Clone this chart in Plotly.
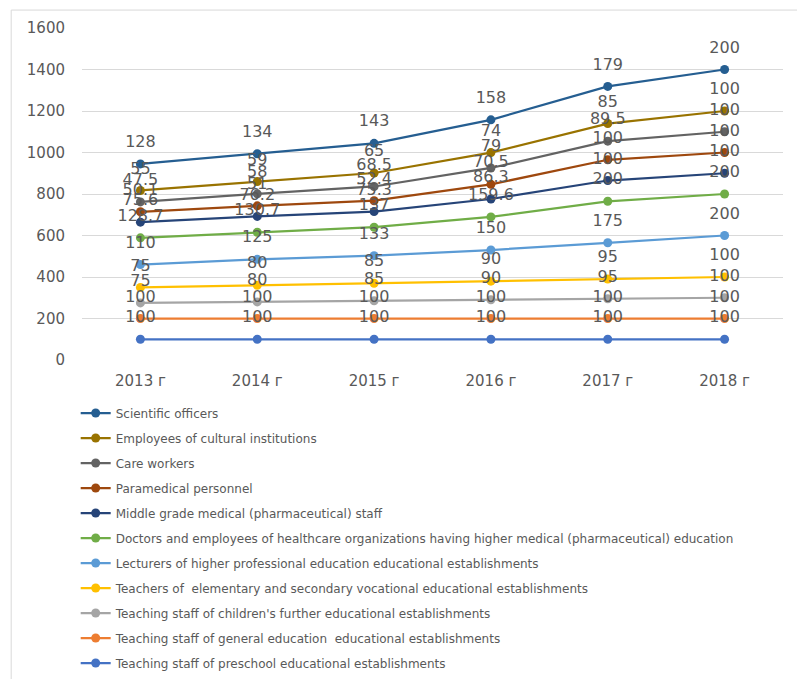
import plotly.graph_objects as go

years = ["2013 г", "2014 г", "2015 г", "2016 г", "2017 г", "2018 г"]

# series listed bottom (first stacked) to top
preschool = [100, 100, 100, 100, 100, 100]
general_edu = [100, 100, 100, 100, 100, 100]
childrens_further = [75, 80, 85, 90, 95, 100]
teachers_elementary = [75, 80, 85, 90, 95, 100]
lecturers = [110, 125, 133, 150, 175, 200]
doctors = [128.7, 130.7, 137, 159.6, 200, 200]
middle_medical = [75.6, 76.2, 75.3, 86.3, 100, 100]
paramedical = [50.1, 51, 52.4, 70.5, 100, 100]
care_workers = [47.5, 58, 68.5, 79, 89.5, 100]
cultural = [55, 59, 65, 74, 85, 100]
scientific = [128, 134, 143, 158, 179, 200]

series = [
    ("Teaching staff of preschool educational establishments", preschool, "#4472C4"),
    ("Teaching staff of general education  educational establishments", general_edu, "#ED7D31"),
    ("Teaching staff of children's further educational establishments", childrens_further, "#A5A5A5"),
    ("Teachers of  elementary and secondary vocational educational establishments", teachers_elementary, "#FFC000"),
    ("Lecturers of higher professional education educational establishments", lecturers, "#5B9BD5"),
    ("Doctors and employees of healthcare organizations having higher medical (pharmaceutical) education", doctors, "#70AD47"),
    ("Middle grade medical (pharmaceutical) staff", middle_medical, "#264478"),
    ("Paramedical personnel", paramedical, "#9E480E"),
    ("Care workers", care_workers, "#636363"),
    ("Employees of cultural institutions", cultural, "#997300"),
    ("Scientific officers", scientific, "#255E91"),
]

n = len(series)
fig = go.Figure()
for i, (name, vals, color) in enumerate(series):
    fig.add_trace(go.Scatter(
        x=years, y=vals, name=name,
        stackgroup="one", fill="none",
        mode="lines+markers",
        line=dict(color=color, width=2.25),
        marker=dict(color=color, size=9),
        legendgroup=f"g{i}",
        legendrank=n - i,
        cliponaxis=False,
    ))
# data labels: same stacked values, drawn above each point
for i, (name, vals, color) in enumerate(series):
    fig.add_trace(go.Scatter(
        x=years, y=vals, name=name,
        stackgroup="labels", fill="none",
        mode="markers+text",
        marker=dict(color="rgba(0,0,0,0)", size=19),
        line=dict(width=0),
        text=[f"{v:g}" for v in vals],
        textposition="top center",
        textfont=dict(family="DejaVu Sans", size=16, color="#595959"),
        showlegend=False, hoverinfo="skip",
        cliponaxis=False,
    ))

fig.update_layout(
    width=797, height=679,
    margin=dict(l=82, r=14, t=28, b=319),
    paper_bgcolor="white", plot_bgcolor="white",
    showlegend=True,
    legend=dict(
        x=-0.009, y=1 - 398.5 / 679, xref="paper", yref="container",
        xanchor="left", yanchor="top",
        traceorder="grouped", tracegroupgap=6,
        font=dict(family="DejaVu Sans", size=12, color="#595959"),
        bgcolor="rgba(0,0,0,0)",
    ),
    xaxis=dict(
        type="category", range=[-0.5, 5.5], showgrid=False, showline=False,
        zeroline=False, ticks="", ticklabelstandoff=10, automargin=False,
        tickfont=dict(family="DejaVu Sans", size=15, color="#595959"),
    ),
    yaxis=dict(
        range=[0, 1600], dtick=200, showgrid=True, gridcolor="#D9D9D9",
        gridwidth=1, zeroline=False, showline=False, ticks="", automargin=False,
        tickfont=dict(family="DejaVu Sans", size=15, color="#595959"),
        ticklabelstandoff=16,
    ),
    shapes=[dict(type="rect", xref="paper", yref="paper",
                 x0=-0.101, x1=1.2, y0=-1.2, y1=1.054,
                 line=dict(color="#D9D9D9", width=1), layer="below")],
)

fig.write_html("out.html")
